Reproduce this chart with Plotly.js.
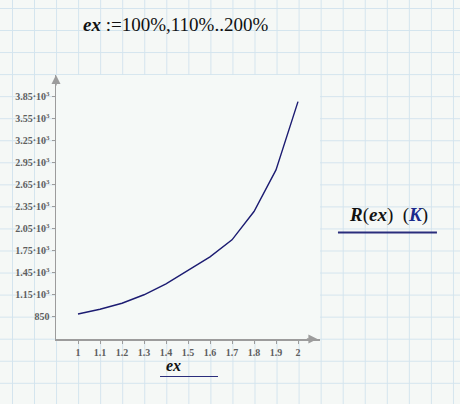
<!DOCTYPE html>
<html>
<head>
<meta charset="utf-8">
<script src="https://cdn.plot.ly/plotly-3.0.1.min.js"></script>
<style>
  html, body { margin: 0; padding: 0; }
  #chart {
    width: 460px; height: 404px;
    background-color: #f5f8f6;
    background-image:
      linear-gradient(to right, #d3e4ee 1px, transparent 1px),
      linear-gradient(to bottom, #d3e4ee 1px, transparent 1px);
    background-size: 22.06px 22.06px;
    background-position: 12px 8px;
  }
</style>
</head>
<body>
<div id="chart"></div>
<script>
// Data
const exValues = [1.0, 1.1, 1.2, 1.3, 1.4, 1.5, 1.6, 1.7, 1.8, 1.9, 2.0];
const rValues  = [883, 948, 1030, 1146, 1296, 1475, 1664, 1896, 2282, 2850, 3782];

const xTickVals = [1, 1.1, 1.2, 1.3, 1.4, 1.5, 1.6, 1.7, 1.8, 1.9, 2];
const xTickText = ["1", "1.1", "1.2", "1.3", "1.4", "1.5", "1.6", "1.7", "1.8", "1.9", "2"];
const yTickVals = [850, 1150, 1450, 1750, 2050, 2350, 2650, 2950, 3250, 3550, 3850];
const yTickText = ["850", "1.15·10<sup>3</sup>", "1.45·10<sup>3</sup>", "1.75·10<sup>3</sup>",
  "2.05·10<sup>3</sup>", "2.35·10<sup>3</sup>", "2.65·10<sup>3</sup>", "2.95·10<sup>3</sup>",
  "3.25·10<sup>3</sup>", "3.55·10<sup>3</sup>", "3.85·10<sup>3</sup>"];

const titleText = "<i><b>ex</b></i> :=100%,110%..200%";
const xLabel = "<i><b>ex</b></i>";
const legendText = "<i><b>R</b></i>(<i><b>ex</b></i>)  (<span style='color:#1b2a8c'><i><b>K</b></i></span>)";

const axisColor = "#9c9c9c";
const navy = "#2a2d7c";
const tickFont = {family: "Liberation Serif", size: 10, color: "#5e5e5e", weight: "bold"};

const trace = {
  x: exValues, y: rValues, type: "scatter", mode: "lines",
  line: {color: "#1c1c72", width: 1.4},
  hoverinfo: "skip"
};

const layout = {
  width: 460, height: 404,
  margin: {l: 56, r: 140, t: 75, b: 65},
  paper_bgcolor: "rgba(0,0,0,0)",
  plot_bgcolor: "#f5f9f7",
  showlegend: false,
  xaxis: {
    range: [0.9, 2.1], tickvals: xTickVals, ticktext: xTickText,
    showgrid: false, zeroline: false, showline: true, linecolor: axisColor, linewidth: 1.5,
    ticks: "outside", ticklen: 3, tickcolor: axisColor, tickfont: tickFont, fixedrange: true
  },
  yaxis: {
    range: [542, 4146], tickvals: yTickVals, ticktext: yTickText,
    showgrid: false, zeroline: false, showline: true, linecolor: axisColor, linewidth: 1.5,
    ticks: "outside", ticklen: 3, tickcolor: axisColor, tickfont: tickFont, fixedrange: true
  },
  annotations: [
    {text: titleText, xref: "paper", yref: "paper", x: 0.4508, y: 1.19, showarrow: false,
     xanchor: "center", yanchor: "middle", font: {family: "Liberation Serif", size: 19, color: "#111"}},
    {text: xLabel, xref: "paper", yref: "paper", x: 0.445, y: -0.102, showarrow: false,
     xanchor: "center", yanchor: "middle", font: {family: "Liberation Serif", size: 16, color: "#111"}},
    {text: legendText, xref: "paper", yref: "paper", x: 1.2576, y: 0.47, showarrow: false,
     xanchor: "center", yanchor: "middle", font: {family: "Liberation Serif", size: 19, color: "#111"}},
    // axis arrowheads
    {text: "", xref: "paper", yref: "paper", x: 0, y: 1, ax: 0, ay: 12, showarrow: true,
     arrowhead: 2, arrowsize: 1.2, arrowwidth: 1.5, arrowcolor: axisColor},
    {text: "", xref: "paper", yref: "paper", x: 0.99, y: 0, ax: -12, ay: 0, showarrow: true,
     arrowhead: 2, arrowsize: 1.2, arrowwidth: 1.5, arrowcolor: axisColor}
  ],
  shapes: [
    {type: "line", xref: "paper", yref: "paper", x0: 1.068, x1: 1.443, y0: 0.4034, y1: 0.4034,
     line: {color: navy, width: 2}},
    {type: "line", xref: "paper", yref: "paper", x0: 0.394, x1: 0.6136, y0: -0.142, y1: -0.142,
     line: {color: navy, width: 1.2}}
  ]
};

Plotly.newPlot("chart", [trace], layout, {staticPlot: true, displayModeBar: false});
</script>
</body>
</html>
